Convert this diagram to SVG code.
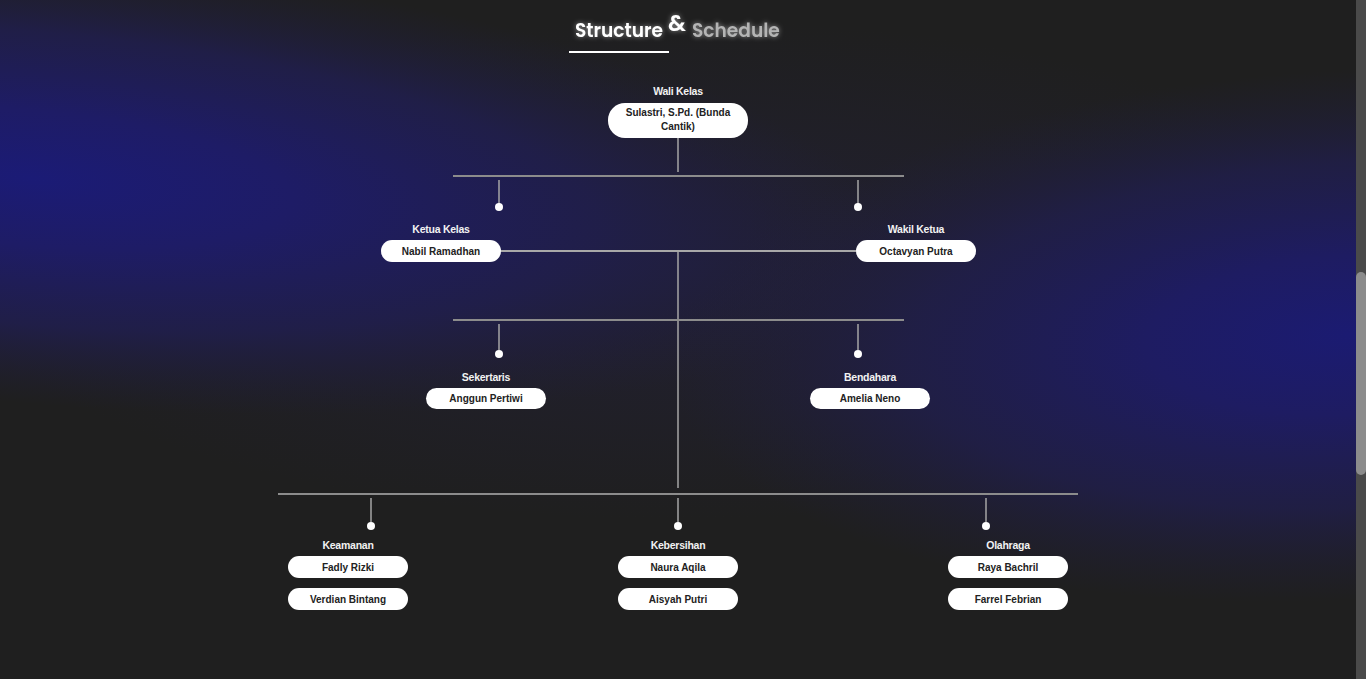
<svg xmlns="http://www.w3.org/2000/svg" width="1366" height="679" viewBox="0 0 1366 679">
<defs>
<radialGradient id="gL" cx="0" cy="0" r="1" gradientUnits="userSpaceOnUse" gradientTransform="translate(30 178) rotate(5) scale(880 225)">
<stop offset="0" stop-color="#1b1b76"/>
<stop offset="0.3" stop-color="#1e1c66"/>
<stop offset="0.65" stop-color="#201e4c" stop-opacity="0.9"/>
<stop offset="1" stop-color="#201e3c" stop-opacity="0"/>
</radialGradient>
<radialGradient id="gR" cx="0" cy="0" r="1" gradientUnits="userSpaceOnUse" gradientTransform="translate(1350 335) rotate(-3) scale(680 265)">
<stop offset="0" stop-color="#1b1b72"/>
<stop offset="0.3" stop-color="#1e1c62"/>
<stop offset="0.65" stop-color="#201e4a" stop-opacity="0.85"/>
<stop offset="1" stop-color="#201e3c" stop-opacity="0"/>
</radialGradient>
<radialGradient id="gC" cx="0" cy="0" r="1" gradientUnits="userSpaceOnUse" gradientTransform="translate(680 270) scale(720 250)">
<stop offset="0" stop-color="#222036" stop-opacity="0.85"/>
<stop offset="1" stop-color="#222036" stop-opacity="0"/>
</radialGradient>
<filter id="glow" x="-20%" y="-50%" width="140%" height="200%">
<feGaussianBlur in="SourceAlpha" stdDeviation="2.5" result="b"/>
<feFlood flood-color="#9a9a9a" flood-opacity="0.9"/>
<feComposite in2="b" operator="in" result="s"/>
<feMerge><feMergeNode in="s"/><feMergeNode in="SourceGraphic"/></feMerge>
</filter>
</defs>
<style>
.role{font-family:"Liberation Sans",Arial,sans-serif;font-weight:bold;font-size:10.5px;letter-spacing:-0.25px;fill:#f2f2f2;text-anchor:middle}
.name{font-family:"Liberation Sans",Arial,sans-serif;font-weight:bold;font-size:10px;fill:#222;text-anchor:middle}
.box{fill:#fff}
.hl{stroke:#8c8c8c;stroke-width:2;fill:none}
.vl{stroke:#a6a6a6;stroke-width:1.5;fill:none}
.dot{fill:#fff}
.ttl{font-family:Poppins,Inter,"Open Sans",sans-serif;font-weight:600}
</style>
<rect width="1366" height="679" fill="#1f1f1f"/>
<rect width="1366" height="679" fill="url(#gC)"/>
<rect width="1366" height="679" fill="url(#gL)"/>
<rect width="1366" height="679" fill="url(#gR)"/>

<g id="title" filter="url(#glow)">
<text class="ttl" x="575" y="37" font-size="18.6" fill="#ffffff">Structure</text>
<text class="ttl" x="668" y="31" font-size="23" fill="#ffffff">&amp;</text>
<text class="ttl" x="692" y="37" font-size="18.6" fill="#b4b4b4">Schedule</text>
</g>
<rect x="569" y="51" width="100" height="2" fill="#ffffff"/>

<g id="connectors">
<line class="vl" x1="678" y1="138" x2="678" y2="172"/>
<line class="hl" x1="453" y1="176" x2="904" y2="176"/>
<line class="vl" x1="499" y1="180" x2="499" y2="204"/>
<circle class="dot" cx="499" cy="207" r="4"/>
<line class="vl" x1="858" y1="180" x2="858" y2="204"/>
<circle class="dot" cx="858" cy="207" r="4"/>
<line x1="501" y1="251" x2="856" y2="251" stroke="#a8a8a8" stroke-width="2"/>
<line class="vl" x1="678" y1="252" x2="678" y2="488"/>
<line class="hl" x1="453" y1="320" x2="904" y2="320"/>
<line class="vl" x1="499" y1="324" x2="499" y2="350"/>
<circle class="dot" cx="499" cy="354" r="4"/>
<line class="vl" x1="858" y1="324" x2="858" y2="350"/>
<circle class="dot" cx="858" cy="354" r="4"/>
<line class="hl" x1="278" y1="494" x2="1078" y2="494"/>
<line class="vl" x1="371" y1="498" x2="371" y2="522"/>
<circle class="dot" cx="371" cy="526" r="4"/>
<line class="vl" x1="678" y1="498" x2="678" y2="522"/>
<circle class="dot" cx="678" cy="526" r="4"/>
<line class="vl" x1="986" y1="498" x2="986" y2="522"/>
<circle class="dot" cx="986" cy="526" r="4"/>
</g>

<g id="wali">
<text class="role" x="678" y="95">Wali Kelas</text>
<rect class="box" x="608" y="103" width="140" height="35" rx="17"/>
<text class="name" x="678" y="116">Sulastri, S.Pd. (Bunda</text>
<text class="name" x="678" y="130">Cantik)</text>
</g>
<g id="ketua">
<text class="role" x="441" y="233">Ketua Kelas</text>
<rect class="box" x="381" y="240" width="120" height="22" rx="11"/>
<text class="name" x="441" y="254.5">Nabil Ramadhan</text>
</g>
<g id="wakil">
<text class="role" x="916" y="233">Wakil Ketua</text>
<rect class="box" x="856" y="240" width="120" height="22" rx="11"/>
<text class="name" x="916" y="254.5">Octavyan Putra</text>
</g>
<g id="sekertaris">
<text class="role" x="486" y="381">Sekertaris</text>
<rect class="box" x="426" y="388" width="120" height="21" rx="10.5"/>
<text class="name" x="486" y="401.5">Anggun Pertiwi</text>
</g>
<g id="bendahara">
<text class="role" x="870" y="381">Bendahara</text>
<rect class="box" x="810" y="388" width="120" height="21" rx="10.5"/>
<text class="name" x="870" y="401.5">Amelia Neno</text>
</g>
<g id="keamanan">
<text class="role" x="348" y="549">Keamanan</text>
<rect class="box" x="288" y="556" width="120" height="22" rx="11"/>
<text class="name" x="348" y="570.5">Fadly Rizki</text>
<rect class="box" x="288" y="588" width="120" height="22" rx="11"/>
<text class="name" x="348" y="602.5">Verdian Bintang</text>
</g>
<g id="kebersihan">
<text class="role" x="678" y="549">Kebersihan</text>
<rect class="box" x="618" y="556" width="120" height="22" rx="11"/>
<text class="name" x="678" y="570.5">Naura Aqila</text>
<rect class="box" x="618" y="588" width="120" height="22" rx="11"/>
<text class="name" x="678" y="602.5">Aisyah Putri</text>
</g>
<g id="olahraga">
<text class="role" x="1008" y="549">Olahraga</text>
<rect class="box" x="948" y="556" width="120" height="22" rx="11"/>
<text class="name" x="1008" y="570.5">Raya Bachril</text>
<rect class="box" x="948" y="588" width="120" height="22" rx="11"/>
<text class="name" x="1008" y="602.5">Farrel Febrian</text>
</g>

<g id="scrollbar">
<rect x="1356" y="0" width="10" height="679" fill="#4a4a4a"/>
<rect x="1356" y="272" width="10" height="203" rx="5" fill="#8c8c8c"/>
</g>
</svg>
